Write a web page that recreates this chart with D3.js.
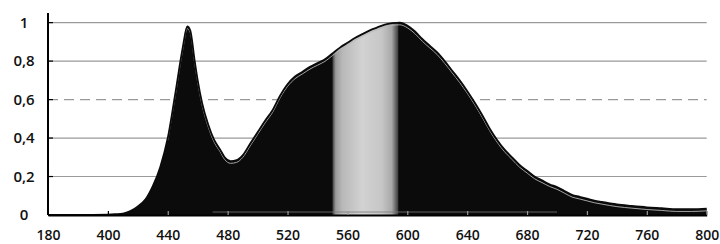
<!DOCTYPE html>
<html><head><meta charset="utf-8">
<script src="https://cdn.jsdelivr.net/npm/d3@7"></script>
<style>
html,body{margin:0;padding:0;background:#fff;}
svg{display:block;}
text{font-family:"Open Sans",sans-serif;font-weight:600;fill:#111;}
</style></head>
<body><svg id="chart" width="720" height="244"></svg>
<script>
const wavelengths = [360,380,400,405,410,415,420,425,430,435,440,445,450,453,455,458,460,463,467,471,475,478,482,486,490,495,500,505,510,515,520,525,530,535,540,545,550,555,560,565,570,575,580,585,590,595,600,605,610,615,620,625,630,635,640,645,650,655,660,665,670,675,680,685,690,695,700,705,710,715,720,725,730,740,750,760,770,780,790,800];
const intensity = [0,0,0.002,0.004,0.007,0.02,0.045,0.08,0.15,0.25,0.40,0.63,0.87,0.98,0.96,0.80,0.70,0.58,0.47,0.39,0.34,0.30,0.28,0.285,0.31,0.37,0.43,0.49,0.545,0.62,0.68,0.72,0.745,0.77,0.79,0.81,0.84,0.87,0.895,0.92,0.94,0.96,0.975,0.99,0.997,1.0,0.985,0.955,0.915,0.88,0.845,0.80,0.75,0.70,0.645,0.585,0.52,0.45,0.39,0.34,0.30,0.26,0.23,0.20,0.18,0.16,0.145,0.125,0.105,0.095,0.085,0.075,0.068,0.055,0.047,0.04,0.035,0.03,0.03,0.033];
const xTickValues = [360,400,440,480,520,560,600,640,680,720,760,800];
const xTickLabels = ["180","400","440","480","520","560","600","640","680","720","760","800"];
const yTickValues = [0,0.2,0.4,0.6,0.8,1];
const yTickLabels = ["0","0,2","0,4","0,6","0,8","1"];
const bandRange = [550,594];

const W=720,H=244, m={l:48,r:13.3,t:13,b:29};
const svg=d3.select("#chart");
const x=d3.scaleLinear().domain([360,800]).range([m.l,W-m.r]);
const y=d3.scaleLinear().domain([0,1.05]).range([H-m.b,m.t]);
const data=wavelengths.map((w,i)=>({w,v:intensity[i]}));

// gridlines
svg.append("g").selectAll("line").data(yTickValues.filter(v=>v>0)).join("line")
  .attr("x1",x(360)).attr("x2",x(800)).attr("y1",d=>y(d)).attr("y2",d=>y(d))
  .attr("stroke","#9a9a9a").attr("stroke-width",1.2)
  .attr("stroke-dasharray",d=>d===0.6?"10,6":null);

const defs=svg.append("defs");
const grad=defs.append("linearGradient").attr("id","band").attr("gradientUnits","userSpaceOnUse")
  .attr("x1",x(bandRange[0])).attr("x2",x(bandRange[1])).attr("y1",0).attr("y2",0);
[[0,"#3a3a3a"],[0.05,"#9a9a9a"],[0.15,"#b8b8b8"],[0.45,"#d2d2d2"],[0.75,"#c6c6c6"],[0.9,"#a8a8a8"],[1,"#3a3a3a"]]
  .forEach(([o,c])=>grad.append("stop").attr("offset",o).attr("stop-color",c));
defs.append("clipPath").attr("id","bandclip").append("rect")
  .attr("x",x(bandRange[0])).attr("width",x(bandRange[1])-x(bandRange[0]))
  .attr("y",0).attr("height",H);

const area=d3.area().x(d=>x(d.w)).y0(y(0)).y1(d=>y(d.v)).curve(d3.curveMonotoneX);
const line=d3.line().x(d=>x(d.w)).y(d=>y(d.v)).curve(d3.curveMonotoneX);

svg.append("path").datum(data).attr("d",area).attr("fill","#0b0b0b");
svg.append("path").datum(data).attr("d",area).attr("fill","url(#band)").attr("clip-path","url(#bandclip)");
// inner light outline
svg.append("path").datum(data.filter(d=>d.w>=440)).attr("d",line).attr("fill","none")
  .attr("stroke","#b5b5b5").attr("stroke-width",0.9).attr("transform","translate(0,2.2)");
svg.append("path").datum(data).attr("d",line).attr("fill","none")
  .attr("stroke","#0b0b0b").attr("stroke-width",1.8);

// faint baseline artefact line
svg.append("line").attr("x1",x(470)).attr("x2",x(700)).attr("y1",y(0)-3).attr("y2",y(0)-3)
  .attr("stroke","#7a7a7a").attr("stroke-width",0.8);

// x axis
const xAxis=d3.axisBottom(x).tickValues(xTickValues).tickSizeInner(-4).tickSizeOuter(0)
  .tickFormat((d,i)=>xTickLabels[i]).tickPadding(15);
const gx=svg.append("g").attr("transform",`translate(0,${y(0)})`).call(xAxis);
gx.select(".domain").attr("stroke","#000").attr("stroke-width",2);
gx.selectAll(".tick line").attr("stroke",(d)=>d<=400?"#000":"#999").attr("stroke-width",1.2);
gx.selectAll(".tick text").attr("font-size",14).attr("font-family","'Open Sans',sans-serif").attr("font-weight",600).attr("fill","#111");
gx.selectAll(".tick").filter(d=>d===360).select("line").remove();

// y axis
const gy=svg.append("g").attr("transform",`translate(${x(360)},0)`);
gy.append("line").attr("x1",0).attr("x2",0).attr("y1",m.t).attr("y2",y(0)).attr("stroke","#000").attr("stroke-width",2);
gy.selectAll("line.t").data(yTickValues).join("line").attr("class","t")
  .attr("x1",0).attr("x2",5).attr("y1",d=>y(d)).attr("y2",d=>y(d)).attr("stroke","#000").attr("stroke-width",1.2);
gy.selectAll("text").data(yTickValues).join("text")
  .attr("x",-24).attr("y",d=>y(d)).attr("dy","0.35em").attr("text-anchor","middle")
  .attr("font-size",15).text((d,i)=>yTickLabels[i]);
</script></body></html>
